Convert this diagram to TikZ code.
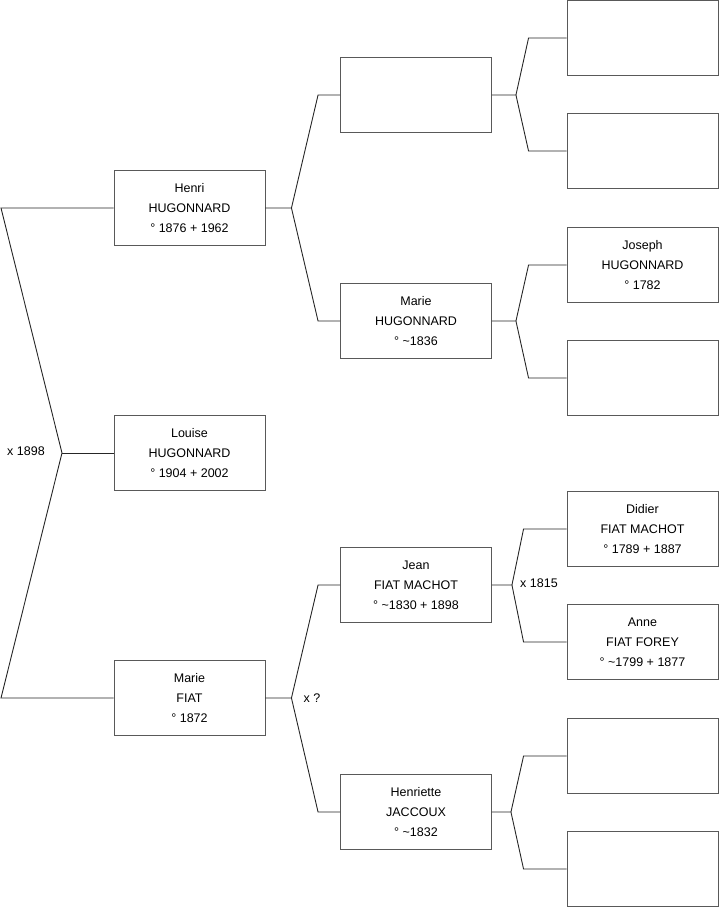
\documentclass[tikz,border=0pt]{standalone}
\usepackage{fontspec}
\setmainfont{Liberation Sans}
\usetikzlibrary{positioning}

\tikzset{
    person/.style={draw=black!65, line width=0.9pt, minimum width=151pt, minimum height=75pt,
        inner sep=0pt, align=center, font=\fontsize{12.5}{20}\selectfont},
    link/.style={draw=black!85, line width=0.9pt},
    union/.style={font=\fontsize{12.5}{15}\selectfont}
}

\begin{document}
\begin{tikzpicture}[x=1pt, y=-1pt]
    \useasboundingbox (0,0) rectangle (719,908);
    % generation 1
    \foreach \i/\y/\txt in {1/208/{Henri\\HUGONNARD\\° 1876 + 1962},
                            2/453/{Louise\\HUGONNARD\\° 1904 + 2002},
                            3/698/{Marie\\FIAT\\° 1872}} {
        \node[person] (A\i) at (189.5, \y) {\txt};
    }
    % generation 2
    \foreach \j/\y/\txt in {1/95/{},
                            2/321/{Marie\\HUGONNARD\\° \textasciitilde1836},
                            3/585/{Jean\\FIAT MACHOT\\° \textasciitilde1830 + 1898},
                            4/812/{Henriette\\JACCOUX\\° \textasciitilde1832}} {
        \node[person] (B\j) at (416, \y) {\txt};
    }
    % generation 3
    \foreach \k/\y/\txt in {1/38/{}, 2/151/{},
                            3/265/{Joseph\\HUGONNARD\\° 1782}, 4/378/{},
                            5/529/{Didier\\FIAT MACHOT\\° 1789 + 1887},
                            6/642/{Anne\\FIAT FOREY\\° \textasciitilde1799 + 1877},
                            7/756/{}, 8/869/{}} {
        \node[person] (C\k) at (642.5, \y) {\txt};
    }
    % parents of Louise
    \coordinate (top) at (1,208);
    \coordinate (bot) at (1,698);
    \coordinate (fork) at (62,453);
    \draw[link] (A1.west) -- (top) -- (fork) -- (bot) -- (A3.west);
    \draw[link] (fork) -- (A2.west);
    \node[union] (u1) at (26,451) {x 1898};
    % grandparents
    \foreach \p/\a/\b in {A1/B1/B2, A3/B3/B4} {
        \draw[link] (\p.east) -- ++(26,0) coordinate (f\p) -- ([xshift=-22pt]\a.west) -- (\a.west);
        \draw[link] (f\p) -- ([xshift=-22pt]\b.west) -- (\b.west);
    }
    \node[union] (u2) at (312,698) {x ?};
    % great-grandparents
    \foreach \p/\a/\b/\s/\t in {B1/C1/C2/24/38, B2/C3/C4/24/38, B3/C5/C6/20/43, B4/C7/C8/19/43} {
        \draw[link] (\p.east) -- ++(\s,0) coordinate (f\p) -- ([xshift=-\t pt]\a.west) -- (\a.west);
        \draw[link] (f\p) -- ([xshift=-\t pt]\b.west) -- (\b.west);
    }
    \node[union] (u3) at (539,583) {x 1815};
\end{tikzpicture}
\end{document}
